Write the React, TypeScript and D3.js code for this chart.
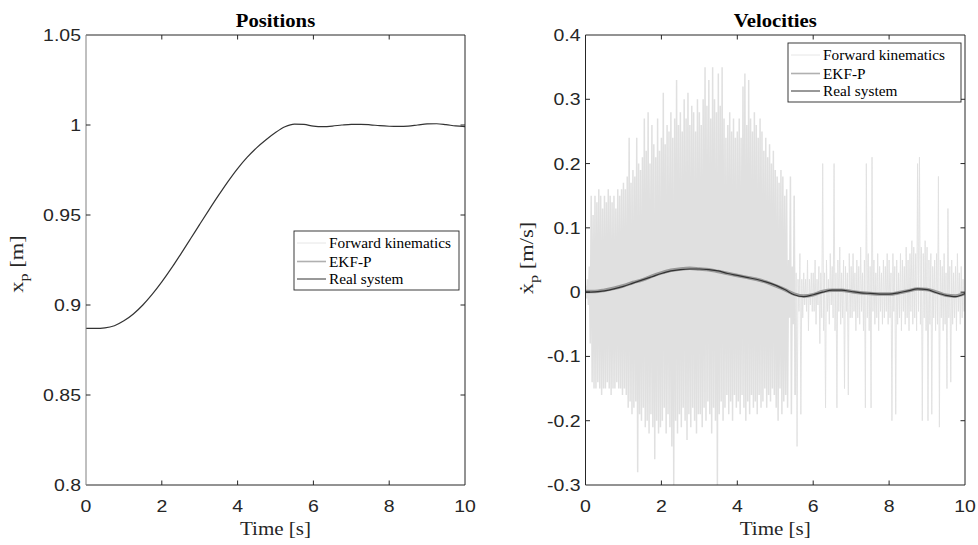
import React from 'react';
import * as d3 from 'd3';

// ---------- DATA ----------
const timeS = [0, 0.25, 0.5, 0.75, 1, 1.25, 1.5, 1.75, 2, 2.25, 2.5, 2.75, 3, 3.25, 3.5, 3.75, 4, 4.25, 4.5, 4.75, 5,
  5.25, 5.5, 5.75, 6, 6.25, 6.5, 6.75, 7, 7.25, 7.5, 7.75, 8, 8.25, 8.5, 8.75, 9, 9.25, 9.5, 9.75, 10];

const positionReal = [0.887, 0.887, 0.8873, 0.8885, 0.8912, 0.895, 0.9, 0.906, 0.9128, 0.9203, 0.9283, 0.9365, 0.9448,
  0.953, 0.961, 0.9687, 0.9758, 0.982, 0.9873, 0.9918, 0.9958, 0.999, 1.0005, 1.0003, 0.9994, 0.9991, 0.9994, 1.0,
  1.0004, 1.0004, 1.0001, 0.9996, 0.9993, 0.9992, 0.9994, 1.0, 1.0006, 1.0007, 1.0002, 0.9995, 0.9991];

const velocityReal = [0, 0.0005, 0.002, 0.005, 0.009, 0.014, 0.019, 0.024, 0.029, 0.033, 0.035, 0.036, 0.036, 0.035,
  0.033, 0.029, 0.026, 0.023, 0.02, 0.016, 0.011, 0.004, -0.004, -0.007, -0.004, 0.0, 0.003, 0.003, 0.001, -0.001,
  -0.002, -0.003, -0.003, -0.001, 0.002, 0.005, 0.004, -0.001, -0.005, -0.007, -0.002];

const velocityEkf = [0.001, 0.001, 0.003, 0.006, 0.01, 0.015, 0.019, 0.025, 0.03, 0.034, 0.036, 0.037, 0.036, 0.035,
  0.032, 0.029, 0.026, 0.023, 0.02, 0.016, 0.01, 0.004, -0.003, -0.006, -0.004, 0.001, 0.003, 0.003, 0.001, -0.001,
  -0.002, -0.003, -0.003, -0.001, 0.002, 0.005, 0.004, 0.0, -0.005, -0.006, -0.002];

// forward kinematics velocity: per 0.05 s sample, upper and lower excursions
const fkHigh = [
  0.01, 0.02, 0.04, 0.15, 0.12, 0.15, 0.14, 0.16, 0.15, 0.13, 0.15, 0.14, 0.16, 0.15, 0.14, 0.15, 0.13, 0.16, 0.15, 0.16,
  0.17, 0.16, 0.18, 0.24, 0.17, 0.19, 0.18, 0.24, 0.2, 0.19, 0.21, 0.27, 0.22, 0.28, 0.2, 0.26, 0.23, 0.21, 0.27, 0.22,
  0.24, 0.31, 0.23, 0.26, 0.25, 0.28, 0.24, 0.27, 0.33, 0.26, 0.28, 0.25, 0.3, 0.27, 0.31, 0.26, 0.29, 0.28, 0.25, 0.3,
  0.28, 0.26, 0.3, 0.35, 0.29, 0.33, 0.27, 0.35, 0.3, 0.28, 0.34, 0.29, 0.35, 0.27, 0.24, 0.26, 0.28, 0.25, 0.27, 0.24,
  0.25, 0.27, 0.24, 0.32, 0.34, 0.26, 0.33, 0.27, 0.25, 0.28, 0.26, 0.24, 0.27, 0.25, 0.22, 0.24, 0.21, 0.23, 0.2, 0.22,
  0.19, 0.18, 0.17, 0.19, 0.18, 0.15, 0.16, 0.05, 0.18, 0.04, 0.15, 0.03, 0.02, 0.06, 0.02, 0.03, 0.02, 0.05, 0.02, 0.03,
  0.03, 0.05, 0.02, 0.04, 0.03, 0.2, 0.03, 0.05, 0.02, 0.06, 0.04, 0.2, 0.03, 0.05, 0.07, 0.03, 0.05, 0.04, 0.03, 0.06,
  0.04, 0.06, 0.03, 0.05, 0.04, 0.07, 0.03, 0.05, 0.2, 0.06, 0.04, 0.21, 0.05, 0.03, 0.06, 0.04, 0.03, 0.05, 0.04, 0.06,
  0.05, 0.03, 0.06, 0.04, 0.05, 0.03, 0.06, 0.05, 0.04, 0.07, 0.05, 0.06, 0.08, 0.07, 0.06, 0.2, 0.21, 0.07, 0.06, 0.08,
  0.07, 0.05, 0.06, 0.04, 0.05, 0.06, 0.18, 0.05, 0.04, 0.06, 0.03, 0.13, 0.04, 0.05, 0.03, 0.04, 0.06, 0.03, 0.04, 0.02,
];
const fkLow = [
  -0.01, -0.02, -0.08, -0.14, -0.15, -0.15, -0.14, -0.15, -0.16, -0.15, -0.15, -0.14, -0.15, -0.16, -0.15, -0.15, -0.14, -0.15, -0.15, -0.16,
  -0.15, -0.16, -0.18, -0.17, -0.19, -0.18, -0.17, -0.28, -0.19, -0.2, -0.18, -0.21, -0.2, -0.22, -0.19, -0.21, -0.26, -0.2, -0.22, -0.21,
  -0.2, -0.18, -0.22, -0.19, -0.21, -0.24, -0.3, -0.2, -0.22, -0.19, -0.21, -0.18, -0.2, -0.23, -0.19, -0.21, -0.18, -0.2, -0.22, -0.19,
  -0.19, -0.21, -0.18, -0.2, -0.17, -0.19, -0.22, -0.18, -0.2, -0.3, -0.19, -0.17, -0.2, -0.18, -0.16, -0.19, -0.17, -0.2, -0.16, -0.18,
  -0.17, -0.19, -0.16, -0.18, -0.2, -0.17, -0.19, -0.16, -0.18, -0.17, -0.19, -0.16, -0.18, -0.17, -0.15, -0.18, -0.16, -0.17, -0.15, -0.16,
  -0.18, -0.2, -0.15, -0.19, -0.17, -0.16, -0.18, -0.04, -0.19, -0.05, -0.16, -0.24, -0.03, -0.19, -0.04, -0.02, -0.03, -0.06, -0.02, -0.03,
  -0.03, -0.05, -0.02, -0.08, -0.04, -0.06, -0.18, -0.03, -0.05, -0.02, -0.04, -0.06, -0.18, -0.03, -0.05, -0.04, -0.15, -0.03, -0.16, -0.04,
  -0.04, -0.03, -0.06, -0.04, -0.05, -0.03, -0.06, -0.18, -0.04, -0.06, -0.18, -0.03, -0.05, -0.04, -0.06, -0.03, -0.05, -0.04, -0.03, -0.05,
  -0.04, -0.2, -0.03, -0.19, -0.05, -0.04, -0.06, -0.03, -0.05, -0.04, -0.06, -0.03, -0.05, -0.04, -0.06, -0.03, -0.05, -0.2, -0.04, -0.06,
  -0.2, -0.05, -0.19, -0.04, -0.06, -0.05, -0.21, -0.04, -0.06, -0.05, -0.15, -0.04, -0.14, -0.05, -0.04, -0.06, -0.03, -0.05, -0.04, -0.03,
];
const fkStep = 0.05;
const fkDenseEnd = 5.5; // seconds: dense part of the measurement noise ends here

const xTicks = [0, 2, 4, 6, 8, 10];
const posTicks = [0.8, 0.85, 0.9, 0.95, 1, 1.05];
const posTickLabels = ['0.8', '0.85', '0.9', '0.95', '1', '1.05'];
const velTicks = [-0.3, -0.2, -0.1, 0, 0.1, 0.2, 0.3, 0.4];
const velTickLabels = ['-0.3', '-0.2', '-0.1', '0', '0.1', '0.2', '0.3', '0.4'];
const legendLabels = ['Forward kinematics', 'EKF-P', 'Real system'];

// ---------- STYLE ----------
const AX = '#262626';
const FK_COLOR = '#e0e0e0';
const EKF_COLOR = '#9a9a9a';
const REAL_COLOR = '#333333';
const SERIF = '"Liberation Serif", "Times New Roman", serif';
const SANS = '"Liberation Sans", Arial, sans-serif';
const TICK_SX = 1.18;
const SERIF_SX = 1.12;

type PanelProps = {
  id: string;
  left: number; right: number; top: number; bottom: number;
  yDomain: [number, number];
  yTicks: number[]; yTickLabels: string[];
  title: string;
  ylabel: React.ReactNode;
  ylabelX: number;
  ylabelY: number;
  legend: { x: number; y: number; w: number; h: number };
  leftSpineColor?: string;
  children: (x: d3.ScaleLinear<number, number>, y: d3.ScaleLinear<number, number>) => React.ReactNode;
};

function Panel(p: PanelProps) {
  const x = d3.scaleLinear().domain([0, 10]).range([p.left, p.right]);
  const y = d3.scaleLinear().domain(p.yDomain).range([p.bottom, p.top]);
  const tl = 4.5;
  const cx = (p.left + p.right) / 2;
  const L = p.legend;
  const rowY = [L.y + 12, L.y + 30.5, L.y + 48];
  return (
    <g>
      <defs>
        <clipPath id={p.id}>
          <rect x={p.left} y={p.top} width={p.right - p.left} height={p.bottom - p.top} />
        </clipPath>
      </defs>
      <g clipPath={`url(#${p.id})`}>{p.children(x, y)}</g>
      {/* box */}
      <line x1={p.left} x2={p.right} y1={p.top} y2={p.top} stroke={AX} strokeWidth={1} />
      <line x1={p.left} x2={p.right} y1={p.bottom} y2={p.bottom} stroke={AX} strokeWidth={1} />
      <line x1={p.right} x2={p.right} y1={p.top} y2={p.bottom} stroke={AX} strokeWidth={1} />
      <line x1={p.left} x2={p.left} y1={p.top} y2={p.bottom} stroke={p.leftSpineColor || AX} strokeWidth={1} />
      {xTicks.map((t) => (
        <g key={'xt' + t}>
          {t > 0 && t < 10 && (
            <>
              <line x1={x(t)} x2={x(t)} y1={p.bottom} y2={p.bottom - tl} stroke={AX} />
              <line x1={x(t)} x2={x(t)} y1={p.top} y2={p.top + tl} stroke={AX} />
            </>
          )}
          <text transform={`translate(${x(t)},${p.bottom + 26.5}) scale(${TICK_SX},1)`} textAnchor="middle"
            fontFamily={SANS} fontSize={16.5} fill={AX}>
            {t}
          </text>
        </g>
      ))}
      {p.yTicks.map((t, i) => (
        <g key={'yt' + t}>
          {i > 0 && i < p.yTicks.length - 1 && (
            <>
              <line x1={p.left} x2={p.left + tl} y1={y(t)} y2={y(t)} stroke={AX} />
              <line x1={p.right} x2={p.right - tl} y1={y(t)} y2={y(t)} stroke={AX} />
            </>
          )}
          <text transform={`translate(${p.left - 5},${y(t) + 6}) scale(${TICK_SX},1)`} textAnchor="end"
            fontFamily={SANS} fontSize={16.5} fill={AX}>
            {p.yTickLabels[i]}
          </text>
        </g>
      ))}
      <text transform={`translate(${cx},26.5) scale(${SERIF_SX},1)`} textAnchor="middle" fontFamily={SERIF}
        fontWeight="bold" fontSize={18.5} fill="#000">
        {p.title}
      </text>
      <text transform={`translate(${cx},${p.bottom + 50}) scale(${SERIF_SX + 0.05},1)`} textAnchor="middle"
        fontFamily={SERIF} fontSize={18} fill={AX}>
        Time [s]
      </text>
      <text transform={`translate(${p.ylabelX},${p.ylabelY}) rotate(-90) scale(1.25,1)`} textAnchor="middle"
        fontFamily={SERIF} fontSize={18} fill={AX}>
        {p.ylabel}
      </text>
      {/* legend */}
      <rect x={L.x} y={L.y} width={L.w} height={L.h} fill="#fff" stroke={AX} strokeWidth={0.9} />
      {legendLabels.map((lab, i) => (
        <g key={lab}>
          <line x1={L.x + 3} x2={L.x + 32} y1={rowY[i]} y2={rowY[i]}
            stroke={i === 0 ? '#e6e6e6' : i === 1 ? '#b0b0b0' : REAL_COLOR} strokeWidth={i === 1 ? 1.6 : 1} />
          <text x={L.x + 35} y={rowY[i] + 5} fontFamily={SERIF} fontSize={15.3} fill="#000">{lab}</text>
        </g>
      ))}
    </g>
  );
}

export default function App() {
  const fkPath = (x: d3.ScaleLinear<number, number>, y: d3.ScaleLinear<number, number>, dense: boolean) => {
    const pts: [number, number][] = [];
    fkHigh.forEach((h, i) => {
      const t = i * fkStep;
      const inDense = t < fkDenseEnd;
      if (inDense !== dense && !(dense && t < fkDenseEnd + fkStep)) return;
      pts.push([x(t), y(h)]);
      pts.push([x(t + fkStep / 2), y(fkLow[i])]);
    });
    if (!dense) pts.push([x(10), y(0)]);
    return d3.line()(pts) || '';
  };
  const smooth = (x: d3.ScaleLinear<number, number>, y: d3.ScaleLinear<number, number>, vals: number[]) =>
    d3.line<number>().x((_, i) => x(timeS[i])).y((v) => y(v)).curve(d3.curveMonotoneX)(vals) || '';

  return (
    <svg width={978} height={545} style={{ position: 'absolute', left: 0, top: 0, background: '#fff' }}>
      <rect width={978} height={545} fill="#fff" />
      <Panel id="clipL" left={86} right={465} top={35} bottom={485} yDomain={[0.8, 1.05]}
        yTicks={posTicks} yTickLabels={posTickLabels} title="Positions" ylabelX={23} ylabelY={264}
        leftSpineColor="#808080"
        ylabel={<>x<tspan dy={5} fontSize={13}>p</tspan><tspan dy={-5}> [m]</tspan></>}
        legend={{ x: 294, y: 231, w: 165, h: 59 }}>
        {(x, y) => (
          <path d={smooth(x, y, positionReal)} fill="none" stroke={REAL_COLOR} strokeWidth={1.2} />
        )}
      </Panel>
      <Panel id="clipR" left={585.5} right={965} top={35} bottom={485} yDomain={[-0.3, 0.4]}
        yTicks={velTicks} yTickLabels={velTickLabels} title="Velocities" ylabelX={533} ylabelY={258}
        ylabel={<>ẋ<tspan dy={5} fontSize={13}>p</tspan><tspan dy={-5}> [m/s]</tspan></>}
        legend={{ x: 788, y: 43, w: 173, h: 59 }}>
        {(x, y) => (
          <>
            <path d={fkPath(x, y, true)} fill="none" stroke={FK_COLOR} strokeWidth={1.5} />
            <path d={fkPath(x, y, false)} fill="none" stroke={FK_COLOR} strokeWidth={0.9} />
            <path d={smooth(x, y, velocityEkf)} fill="none" stroke={EKF_COLOR} strokeWidth={3.5} />
            <path d={smooth(x, y, velocityReal)} fill="none" stroke={REAL_COLOR} strokeWidth={1.2} />
          </>
        )}
      </Panel>
    </svg>
  );
}
